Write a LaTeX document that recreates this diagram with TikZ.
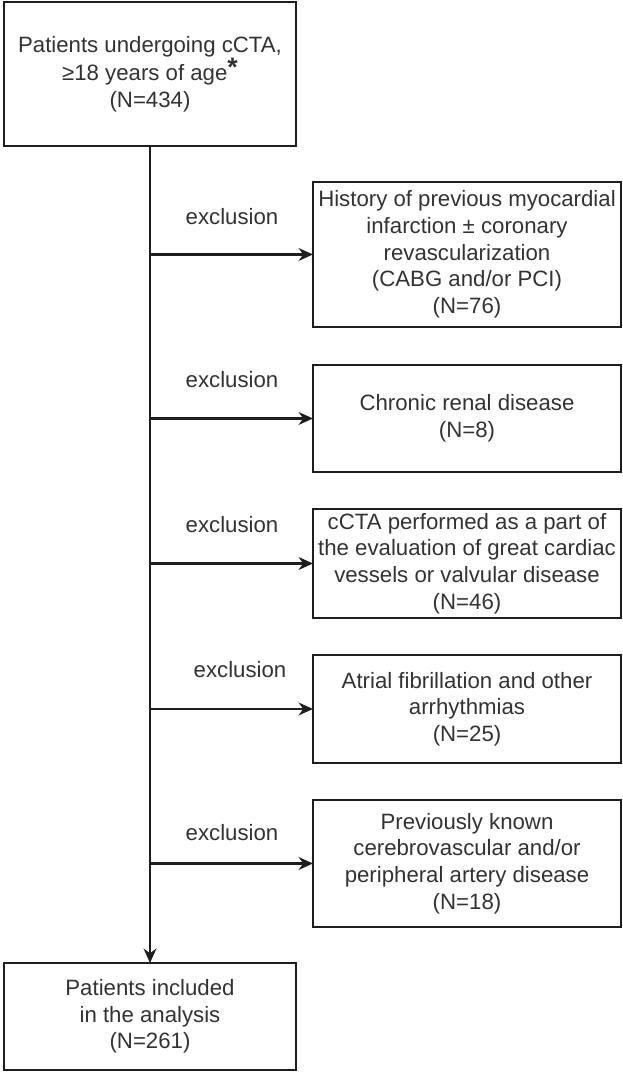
\documentclass[tikz,border=0pt]{standalone}
\usepackage{fontspec}
\setmainfont{Liberation Sans}
\usepackage{tikz}
\usetikzlibrary{
    arrows.meta,
    positioning
}
\usepackage{xcolor}
\definecolor{boxgray}{RGB}{30,30,30}
\definecolor{textgray}{RGB}{50,50,50}

\begin{document}
\begin{tikzpicture}[
    stage/.style={
        rectangle, draw=boxgray, line width=1.5pt,
        inner sep=0pt, outer sep=0pt,
        minimum width=7.3cm, align=center, text=textgray,
        font=\fontsize{15.8}{19}\selectfont
    },
    reason/.style={
        stage, minimum width=7.7cm
    },
    exlabel/.style={
        text=textgray, font=\fontsize{15.8}{19}\selectfont
    },
    flow/.style={
        line width=1.6pt, boxgray, -{Stealth[length=3.6mm, width=3.2mm]}
    }
]
\useasboundingbox (0,0) rectangle (15.55,26.8);

% Boxes
\node[stage, minimum height=3.6cm] (start) at (3.75, 24.95)
    {Patients undergoing cCTA,\\ ≥18 years of age\raisebox{0.35ex}{\fontsize{19}{19}\selectfont\textbf{*}}\\ (N=434)};
\node[reason, minimum height=3.625cm] (mi) at (11.675, 20.4375)
    {History of previous myocardial\\ infarction ± coronary\\ revascularization\\ (CABG and/or PCI)\\ (N=76)};
\node[reason, minimum height=2.675cm] (renal) at (11.675, 16.3375)
    {Chronic renal disease\\ (N=8)};
\node[reason, minimum height=2.725cm] (valve) at (11.675, 12.7125)
    {cCTA performed as a part of\\ the evaluation of great cardiac\\ vessels or valvular disease\\ (N=46)};
\node[reason, minimum height=2.7cm] (afib) at (11.675, 9.075)
    {Atrial fibrillation and other\\ arrhythmias\\ (N=25)};
\node[reason, minimum height=3.175cm] (vasc) at (11.675, 5.2125)
    {Previously known\\ cerebrovascular and/or\\ peripheral artery disease\\ (N=18)};
\node[stage, minimum height=2.675cm] (final) at (3.75, 1.3875)
    {Patients included\\ in the analysis\\ (N=261)};

% Exclusions
\node[exlabel] (ex1) at (5.8, 21.375) {exclusion};
\node[exlabel] (ex2) at (5.8, 17.3) {exclusion};
\node[exlabel] (ex3) at (5.8, 13.675) {exclusion};
\node[exlabel] (ex4) at (6.0, 10.05) {exclusion};
\node[exlabel] (ex5) at (5.8, 5.975) {exclusion};

% Arrows
\draw[flow] (start.south) -- (final.north);
\foreach \crit/\j in {mi/j1, renal/j2, valve/j3, afib/j4, vasc/j5} {
    \coordinate (\j) at (\crit.west -| start.south);
    \draw[flow] (\j) -- (\crit.west);
}

\end{tikzpicture}
\end{document}
